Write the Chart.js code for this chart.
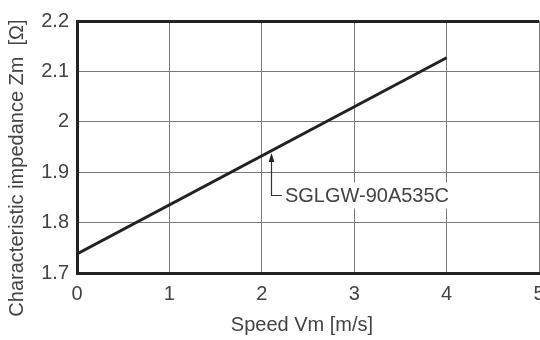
<!DOCTYPE html>
<html>
<head>
<meta charset="utf-8">
<script src="https://cdn.jsdelivr.net/npm/chart.js@4/dist/chart.umd.min.js"></script>
<style>
    html, body { margin: 0; padding: 0; background: #fff; }
    #chart_box { width: 540px; height: 340px; }
</style>
</head>
<body>
<div id="chart_box"><canvas id="impedance_chart" width="540" height="340"></canvas></div>
<script>
// Chart data
const speed = [0, 4];
const impedance = [1.738, 2.127];
const xTicks = [0, 1, 2, 3, 4, 5];
const yTicks = [1.7, 1.8, 1.9, 2.0, 2.1, 2.2];
const seriesName = "SGLGW-90A535C";
const xTitle = "Speed Vm [m/s]";
const yTitle = "Characteristic impedance Zm  [\u03A9]";

// where the label arrow points to / the label sits (data units)
const labelArrowX = 2.1;
const labelArrowY = 1.938;
const labelElbowY = 1.855;
const labelTextX = 2.25;

const fontFamily = "'Liberation Sans', Arial, sans-serif";
const textColor = "#444";
const gridColor = "#7a7a7a";
const frameColor = "#222";

let points = speed.map((v, i) => ({ x: v, y: impedance[i] }));

// draws the axis titles and the series label with its arrow
const extrasPlugin = {
    id: 'extras',
    afterDatasetsDraw(chart) {
        const ctx = chart.ctx;
        const xs = chart.scales.x;
        const ys = chart.scales.y;
        ctx.save();

        ctx.fillStyle = textColor;
        ctx.font = "20px " + fontFamily;
        ctx.textAlign = 'center';
        ctx.textBaseline = 'middle';
        // x axis title
        ctx.fillText(xTitle, 302, 325);
        // y axis title
        ctx.translate(17, 168);
        ctx.rotate(-Math.PI / 2);
        ctx.fillText(yTitle, 0, 0);
        ctx.setTransform(1, 0, 0, 1, 0, 0);

        // label
        let ax = Math.round(xs.getPixelForValue(labelArrowX)) + 0.5;
        let tipY = ys.getPixelForValue(labelArrowY);
        let elbowY = Math.round(ys.getPixelForValue(labelElbowY)) + 0.5;
        let tx = xs.getPixelForValue(labelTextX);
        let w = ctx.measureText(seriesName).width;
        ctx.fillStyle = "#fff";
        ctx.fillRect(tx - 2, elbowY - 13, w + 6, 26);

        ctx.strokeStyle = "#333";
        ctx.lineWidth = 1.2;
        ctx.beginPath();
        ctx.moveTo(ax, tipY + 7);
        ctx.lineTo(ax, elbowY);
        ctx.lineTo(tx - 3, elbowY);
        ctx.stroke();

        ctx.fillStyle = "#222";
        ctx.beginPath();
        ctx.moveTo(ax, tipY);
        ctx.lineTo(ax - 2.8, tipY + 9);
        ctx.lineTo(ax + 2.8, tipY + 9);
        ctx.closePath();
        ctx.fill();

        ctx.fillStyle = textColor;
        ctx.textAlign = 'left';
        ctx.textBaseline = 'middle';
        ctx.fillText(seriesName, tx, elbowY + 1);
        ctx.restore();
    }
};

let impedanceChart = new Chart(document.getElementById('impedance_chart'), {
    type: 'scatter',
    data: {
        datasets: [{
            label: seriesName,
            data: points,
            showLine: true,
            borderColor: frameColor,
            borderWidth: 3,
            pointRadius: 0,
            tension: 0
        }]
    },
    options: {
        responsive: false,
        animation: false,
        devicePixelRatio: 1,
        layout: { padding: { top: 21, right: 1, left: 0, bottom: 0 } },
        plugins: {
            legend: { display: false },
            tooltip: { enabled: false }
        },
        scales: {
            x: {
                type: 'linear',
                min: xTicks[0],
                max: xTicks[xTicks.length - 1],
                afterBuildTicks: (scale) => { scale.ticks = xTicks.map(v => ({ value: v })); },
                afterFit: (scale) => {
                    scale.height = 67;
                    scale.paddingLeft = 0;
                    scale.paddingRight = 0;
                },
                grid: { color: gridColor, lineWidth: 1, drawTicks: false },
                border: { display: true, color: frameColor, width: 3 },
                ticks: {
                    padding: 9,
                    color: textColor,
                    font: { family: fontFamily, size: 20 },
                    callback: (v) => String(+v.toFixed(1))
                }
            },
            y: {
                min: yTicks[0],
                max: yTicks[yTicks.length - 1],
                afterBuildTicks: (scale) => { scale.ticks = yTicks.map(v => ({ value: v })); },
                afterFit: (scale) => { scale.width = 77; },
                grid: {
                    drawTicks: false,
                    color: (c) => (c.tick && c.tick.value >= 2.2 ? frameColor : gridColor),
                    lineWidth: (c) => (c.tick && c.tick.value >= 2.2 ? 3 : 1)
                },
                border: { display: true, color: frameColor, width: 3 },
                ticks: {
                    padding: 8,
                    color: textColor,
                    font: { family: fontFamily, size: 20 },
                    callback: (v) => String(+v.toFixed(1))
                }
            }
        }
    },
    plugins: [extrasPlugin]
});
</script>
</body>
</html>
